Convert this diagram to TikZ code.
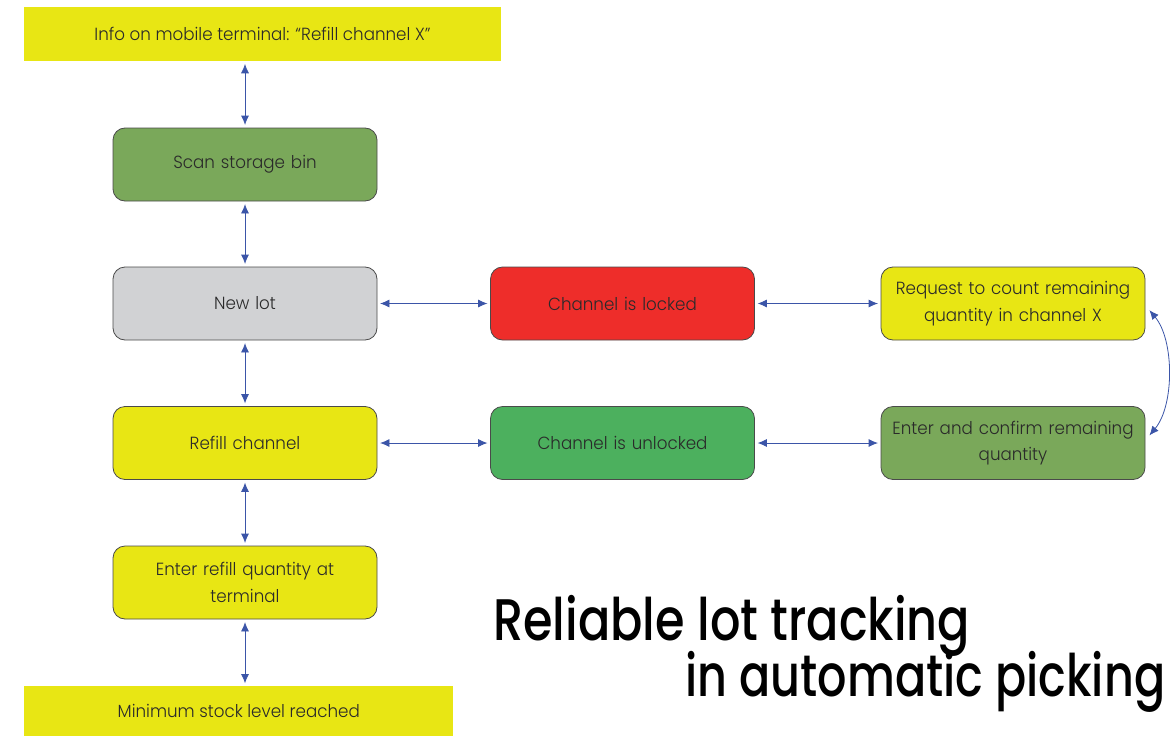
\documentclass[tikz,border=0pt]{standalone}
\usepackage{fontspec}
\setmainfont{Poppins}[UprightFont=* Light, BoldFont=* Medium, FakeStretch=0.95]
\newfontfamily\titlefont{Poppins}[UprightFont=* Medium]
\usetikzlibrary{arrows.meta}
\definecolor{cyel}{HTML}{E8E614}
\definecolor{cgrn}{HTML}{7AA85A}
\definecolor{cgray}{HTML}{D1D2D4}
\definecolor{cred}{HTML}{EE2D2A}
\definecolor{clgrn}{HTML}{4CB05E}
\definecolor{carr}{HTML}{3B55A8}
\definecolor{ctxt}{HTML}{2A2A2A}
\begin{document}
\begin{tikzpicture}[x=0.75pt,y=-0.75pt,
  box/.style={draw=ctxt!85, line width=0.6pt, rounded corners=9pt, minimum width=264*0.75pt, minimum height=73*0.75pt, inner sep=0pt, align=center, text=ctxt, font=\fontsize{13.2}{20}\selectfont, text width=262*0.75pt},
  banner/.style={draw=none, inner sep=0pt, align=center, text=ctxt, font=\fontsize{13.2}{20}\selectfont},
  title/.style={anchor=base west, inner sep=0pt, font=\titlefont\fontsize{44}{50}\selectfont, text=black},
  link/.style={carr, line width=0.6pt, {Latex[length=7pt,width=6pt]}-{Latex[length=7pt,width=6pt]}, shorten <=2pt, shorten >=2pt}]
\useasboundingbox (0,0) rectangle (1173,735);
\fill[white] (0,0) rectangle (1173,735);
% banners
\node[banner, fill=cyel, minimum width=477*0.75pt, minimum height=54*0.75pt] (info) at (262.5,34) {Info on mobile terminal: ``Refill channel X''};
\node[banner, fill=cyel, minimum width=429*0.75pt, minimum height=50*0.75pt, anchor=north west] (minst) at (24,686) {Minimum stock level reached};
% left column
\node[box, fill=cgrn] (scan) at (245,164.5) {Scan storage bin};
\node[box, fill=cgray] (newlot) at (245,303.5) {New lot};
\node[box, fill=cyel] (refill) at (245,443) {Refill channel};
\node[box, fill=cyel] (enterq) at (245,582.5) {Enter refill quantity at\\terminal};
% middle
\node[box, fill=cred] (locked) at (622.5,303.5) {Channel is locked};
\node[box, fill=clgrn] (unlocked) at (622.5,443) {Channel is unlocked};
% right
\node[box, fill=cyel] (request) at (1013,303.5) {Request to count remaining\\quantity in channel X};
\node[box, fill=cgrn] (confirm) at (1013,443) {Enter and confirm remaining\\quantity};
% arrows
\draw[link] (scan.north |- info.south) -- (scan.north);
\draw[link] (scan) -- (newlot);
\draw[link] (newlot) -- (refill);
\draw[link] (refill) -- (enterq);
\draw[link] (enterq.south) -- (enterq.south |- minst.north);
\draw[link] (newlot) -- (locked);
\draw[link] (locked) -- (request);
\draw[link] (refill) -- (unlocked);
\draw[link] (unlocked) -- (confirm);
\draw[link, shorten <=0pt, shorten >=0pt] ([xshift=3pt,yshift=-5pt]request.east) .. controls +(25,30) and +(25,-30) .. ([xshift=3pt,yshift=-22pt]confirm.north east);
% title
\node[title] (t1) at (493,640) {\resizebox{357.75pt}{\height}{Reliable lot tracking}};
\node[title] (t2) at (685,696) {\resizebox{360pt}{\height}{in automatic picking}};
\end{tikzpicture}
\end{document}
